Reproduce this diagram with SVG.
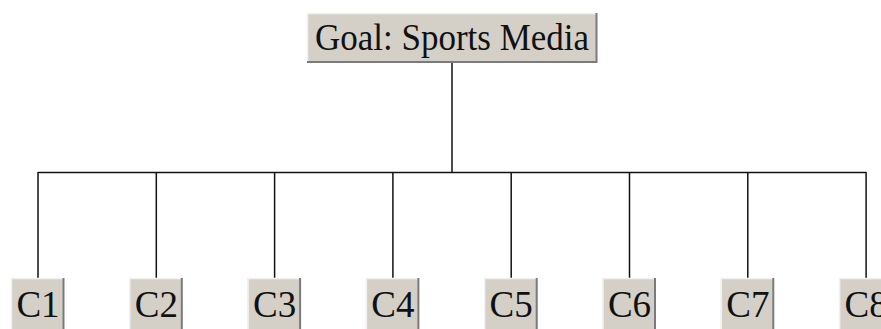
<svg xmlns="http://www.w3.org/2000/svg" width="881" height="329" viewBox="0 0 881 329">
<style>
.box{fill:#d4d0c8;}
.hi{fill:none;stroke:#f2f1ee;stroke-width:1.5;}
.sh{fill:none;stroke:#7a7a7a;stroke-width:2;}
.lbl{font-family:"Liberation Serif","Times New Roman",serif;font-size:37px;fill:#111;text-anchor:middle;}
.wire{fill:none;stroke:#111;stroke-width:1.5;}
</style>
<rect width="881" height="329" fill="#fff"/>
<g id="connectors">
<line class="wire" x1="452" y1="63" x2="452" y2="172.5"/>
<line class="wire" x1="38" y1="172.5" x2="866" y2="172.5"/>
<line class="wire" x1="38" y1="172" x2="38" y2="278"/>
<line class="wire" x1="156.3" y1="172" x2="156.3" y2="278"/>
<line class="wire" x1="274.6" y1="172" x2="274.6" y2="278"/>
<line class="wire" x1="392.9" y1="172" x2="392.9" y2="278"/>
<line class="wire" x1="511.2" y1="172" x2="511.2" y2="278"/>
<line class="wire" x1="629.5" y1="172" x2="629.5" y2="278"/>
<line class="wire" x1="747.8" y1="172" x2="747.8" y2="278"/>
<line class="wire" x1="866.1" y1="172" x2="866.1" y2="278"/>
</g>
<g id="goal">
<rect class="box" x="307" y="13" width="290" height="50"/>
<polyline class="hi" points="307.5,63 307.5,13.5 597,13.5"/>
<polyline class="sh" points="307,62 596.5,62 596.5,13"/>
<text class="lbl" x="452" y="50" textLength="274" lengthAdjust="spacingAndGlyphs">Goal: Sports Media</text>
</g>
<g id="c1"><rect class="box" x="11" y="278" width="53" height="60"/><polyline class="hi" points="11.5,338 11.5,278.5 64,278.5"/><polyline class="sh" points="63.5,278 63.5,338"/><text class="lbl" x="38" y="317">C1</text></g>
<g id="c2"><rect class="box" x="129.3" y="278" width="53" height="60"/><polyline class="hi" points="129.8,338 129.8,278.5 182.3,278.5"/><polyline class="sh" points="181.8,278 181.8,338"/><text class="lbl" x="156.3" y="317">C2</text></g>
<g id="c3"><rect class="box" x="247.6" y="278" width="53" height="60"/><polyline class="hi" points="248.1,338 248.1,278.5 300.6,278.5"/><polyline class="sh" points="300.1,278 300.1,338"/><text class="lbl" x="274.6" y="317">C3</text></g>
<g id="c4"><rect class="box" x="365.9" y="278" width="53" height="60"/><polyline class="hi" points="366.4,338 366.4,278.5 418.9,278.5"/><polyline class="sh" points="418.4,278 418.4,338"/><text class="lbl" x="392.9" y="317">C4</text></g>
<g id="c5"><rect class="box" x="484.2" y="278" width="53" height="60"/><polyline class="hi" points="484.7,338 484.7,278.5 537.2,278.5"/><polyline class="sh" points="536.7,278 536.7,338"/><text class="lbl" x="511.2" y="317">C5</text></g>
<g id="c6"><rect class="box" x="602.5" y="278" width="53" height="60"/><polyline class="hi" points="603,338 603,278.5 655.5,278.5"/><polyline class="sh" points="655,278 655,338"/><text class="lbl" x="629.5" y="317">C6</text></g>
<g id="c7"><rect class="box" x="720.8" y="278" width="53" height="60"/><polyline class="hi" points="721.3,338 721.3,278.5 773.8,278.5"/><polyline class="sh" points="773.3,278 773.3,338"/><text class="lbl" x="747.8" y="317">C7</text></g>
<g id="c8"><rect class="box" x="839.1" y="278" width="53" height="60"/><polyline class="hi" points="839.6,338 839.6,278.5 892,278.5"/><polyline class="sh" points="891.6,278 891.6,338"/><text class="lbl" x="866.1" y="317">C8</text></g>
</svg>
